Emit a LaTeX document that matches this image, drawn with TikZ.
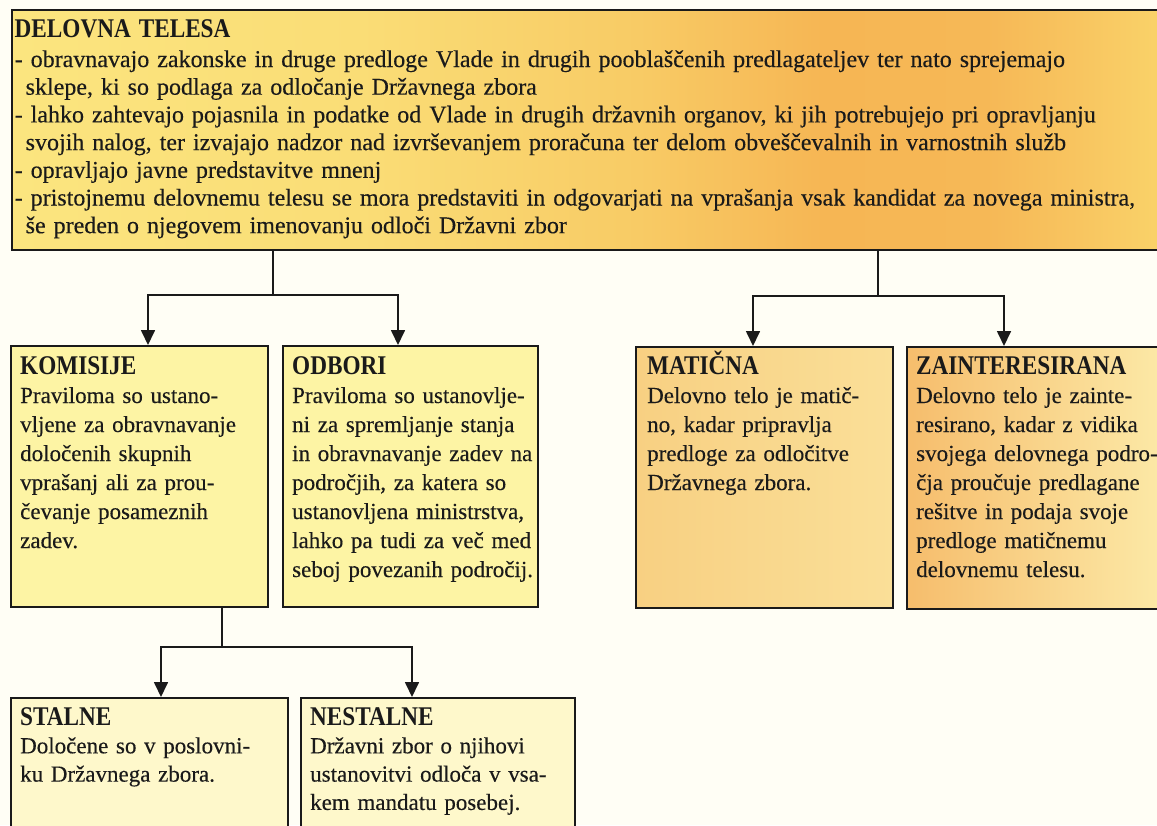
\documentclass[tikz,border=0pt]{standalone}
\usepackage{fontspec}
\setmainfont{Liberation Serif}[FakeBold=0.3]
\newfontfamily\hdfont[FakeStretch=0.86]{Liberation Serif}
\usetikzlibrary{arrows.meta,calc}
\definecolor{bgc}{HTML}{FFFEF5}
\definecolor{tA}{HTML}{FBE57F}
\definecolor{tB}{HTML}{FADD76}
\definecolor{tC}{HTML}{F8CB65}
\definecolor{tD}{HTML}{F6B654}
\definecolor{tD2}{HTML}{F6B856}
\definecolor{tE}{HTML}{F8C560}
\definecolor{tF}{HTML}{FAD46A}
\definecolor{paleA}{HTML}{FDF4A4}
\definecolor{paleB}{HTML}{FEF8CB}
\definecolor{matL}{HTML}{F8D082}
\definecolor{matR}{HTML}{FADF98}
\definecolor{zaiL}{HTML}{F6BD6C}
\definecolor{zaiR}{HTML}{FCEAA8}
\definecolor{ink}{HTML}{1A1A1A}
\pgfdeclarehorizontalshading{topshade}{100bp}{color(0bp)=(tA); color(25bp)=(tA); color(40bp)=(tB); color(52bp)=(tC); color(60bp)=(tD); color(67bp)=(tD2); color(71bp)=(tE); color(75bp)=(tF); color(100bp)=(tF)}
\newcommand{\hdtxt}[1]{{\hdfont\bfseries\fontsize{27}{29}\selectfont #1}}
\newcommand{\topfnt}{\fontsize{24}{27.7}\selectfont\spaceskip=0.18em\relax}
\newcommand{\boxfnt}{\fontsize{23}{29}\selectfont\spaceskip=0.22em\relax}
\newcommand{\lowfnt}{\fontsize{23}{28.3}\selectfont\spaceskip=0.22em\relax}
\begin{document}
\begin{tikzpicture}[x=1pt,y=-1pt,
  box/.style={draw=ink, line width=1.8pt, anchor=north west, inner sep=0pt},
  txt/.style={anchor=base west, align=left, inner sep=0pt, text=ink, font=\boxfnt},
  conn/.style={draw=ink, line width=1.7pt},
  arr/.style={conn, -{Triangle[width=14pt,length=15pt]}}]
\clip (0,0) rectangle (1157,825);
\fill[bgc] (0,0) rectangle (1157,825);
% boxes
\node[box, shade, shading=topshade, minimum width=1160pt, minimum height=240pt] (delovna) at (11,9) {};
\node[box, fill=paleA, minimum width=257pt, minimum height=261pt] (komisije) at (10,345) {};
\node[box, fill=paleA, minimum width=255pt, minimum height=261pt] (odbori) at (282,345) {};
\node[box, left color=matL, right color=matR, minimum width=257pt, minimum height=261pt] (maticna) at (635,346) {};
\node[box, left color=zaiL, right color=zaiR, minimum width=262pt, minimum height=262pt] (zaint) at (906,346) {};
\node[box, fill=paleB, minimum width=277pt, minimum height=150pt] (stalne) at (10,697) {};
\node[box, fill=paleB, minimum width=274pt, minimum height=150pt] (nestalne) at (300,697) {};
% texts
\node[txt, text width=1400pt, font=\topfnt] (delovna-t) at ($(delovna.north west)+(3.5,28)$) {\hdtxt{DELOVNA TELESA}\\[2.3pt]
- obravnavajo zakonske in druge predloge Vlade in drugih pooblaščenih predlagateljev ter nato sprejemajo\\
\hspace*{11pt}sklepe, ki so podlaga za odločanje Državnega zbora\\
- lahko zahtevajo pojasnila in podatke od Vlade in drugih državnih organov, ki jih potrebujejo pri opravljanju\\
\hspace*{11pt}svojih nalog, ter izvajajo nadzor nad izvrševanjem proračuna ter delom obveščevalnih in varnostnih služb\\
- opravljajo javne predstavitve mnenj\\
- pristojnemu delovnemu telesu se mora predstaviti in odgovarjati na vprašanja vsak kandidat za novega ministra,\\
\hspace*{11pt}še preden o njegovem imenovanju odloči Državni zbor};
\node[txt, text width=300pt] (komisije-t) at ($(komisije.north west)+(10,29)$) {\hdtxt{KOMISIJE}\\
Praviloma so ustano-\\
vljene za obravnavanje\\
določenih skupnih\\
vprašanj ali za prou-\\
čevanje posameznih\\
zadev.};
\node[txt, text width=300pt] (odbori-t) at ($(odbori.north west)+(10,29)$) {\hdtxt{ODBORI}\\
Praviloma so ustanovlje-\\
ni za spremljanje stanja\\
in obravnavanje zadev na\\
področjih, za katera so\\
ustanovljena ministrstva,\\
lahko pa tudi za več med\\
seboj povezanih področij.};
\node[txt, text width=300pt] (maticna-t) at ($(maticna.north west)+(12,28)$) {\hdtxt{MATIČNA}\\
Delovno telo je matič-\\
no, kadar pripravlja\\
predloge za odločitve\\
Državnega zbora.};
\node[txt, text width=300pt] (zaint-t) at ($(zaint.north west)+(10,28)$) {\hdtxt{ZAINTERESIRANA}\\
Delovno telo je zainte-\\
resirano, kadar z vidika\\
svojega delovnega podro-\\
čja proučuje predlagane\\
rešitve in podaja svoje\\
predloge matičnemu\\
delovnemu telesu.};
\node[txt, text width=300pt, font=\lowfnt] (stalne-t) at ($(stalne.north west)+(10,28)$) {\hdtxt{STALNE}\\
Določene so v poslovni-\\
ku Državnega zbora.};
\node[txt, text width=300pt, font=\lowfnt] (nestalne-t) at ($(nestalne.north west)+(10,28)$) {\hdtxt{NESTALNE}\\
Državni zbor o njihovi\\
ustanovitvi odloča v vsa-\\
kem mandatu posebej.};
% connectors
\coordinate (j1) at (273,295);
\coordinate (j2) at (878,296);
\coordinate (j3) at (222,647);
\draw[conn] (delovna.south -| j1) -- (j1);
\draw[arr] (j1) -| ([xshift=138pt]komisije.north west);
\draw[arr] (j1) -| ([xshift=116pt]odbori.north west);
\draw[conn] (delovna.south -| j2) -- (j2);
\draw[arr] (j2) -| ([xshift=118pt]maticna.north west);
\draw[arr] (j2) -| ([xshift=98pt]zaint.north west);
\draw[conn] (komisije.south -| j3) -- (j3);
\draw[arr] (j3) -| ([xshift=151pt]stalne.north west);
\draw[arr] (j3) -| ([xshift=112pt]nestalne.north west);
\end{tikzpicture}
\end{document}
